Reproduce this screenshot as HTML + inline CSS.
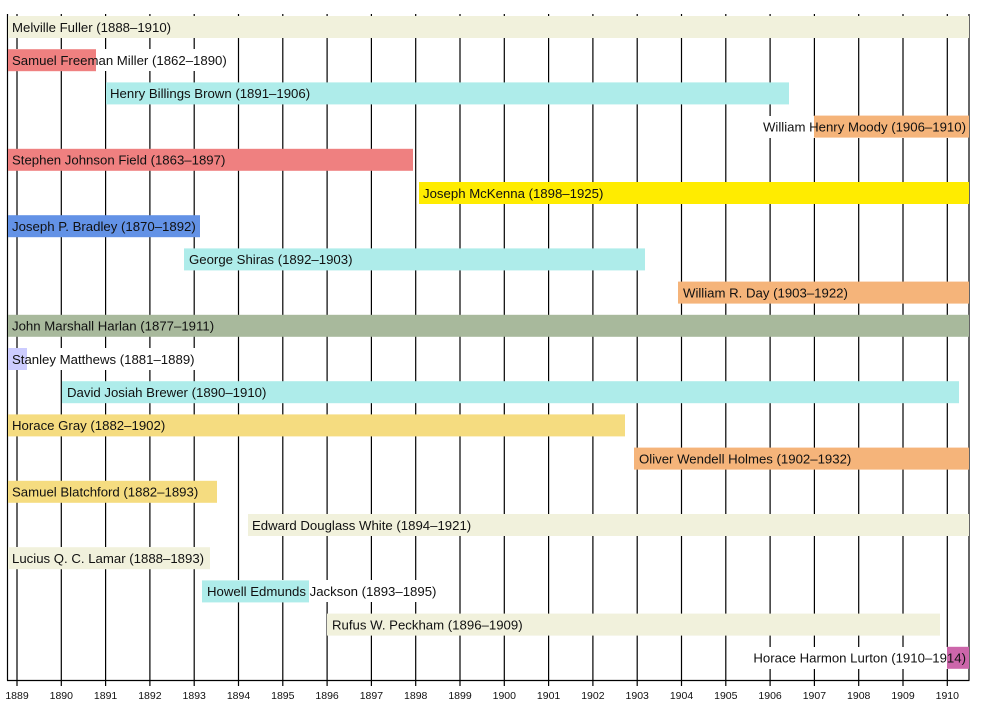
<!DOCTYPE html>
<html><head><meta charset="utf-8"><style>
body{margin:0;background:#fff;width:1000px;height:710px;position:relative;overflow:hidden;}
svg{position:absolute;left:0;top:0;}
.l{position:absolute;height:22px;line-height:23px;font:13.2px "Liberation Sans",sans-serif;white-space:nowrap;color:#111;padding:0 3px 0 4px;}
.bg{background:#fff;color:transparent;}
svg text{font-family:"Liberation Sans",sans-serif;}
</style></head><body>
<svg width="1000" height="710" xmlns="http://www.w3.org/2000/svg">
<g stroke="#000" stroke-width="1.2">
<line x1="17" y1="14" x2="17" y2="686"/><line x1="61.3" y1="14" x2="61.3" y2="686"/><line x1="105.6" y1="14" x2="105.6" y2="686"/><line x1="149.9" y1="14" x2="149.9" y2="686"/><line x1="194.2" y1="14" x2="194.2" y2="686"/><line x1="238.5" y1="14" x2="238.5" y2="686"/><line x1="282.8" y1="14" x2="282.8" y2="686"/><line x1="327.1" y1="14" x2="327.1" y2="686"/><line x1="371.4" y1="14" x2="371.4" y2="686"/><line x1="415.7" y1="14" x2="415.7" y2="686"/><line x1="460" y1="14" x2="460" y2="686"/><line x1="504.3" y1="14" x2="504.3" y2="686"/><line x1="548.6" y1="14" x2="548.6" y2="686"/><line x1="592.9" y1="14" x2="592.9" y2="686"/><line x1="637.2" y1="14" x2="637.2" y2="686"/><line x1="681.5" y1="14" x2="681.5" y2="686"/><line x1="725.8" y1="14" x2="725.8" y2="686"/><line x1="770.1" y1="14" x2="770.1" y2="686"/><line x1="814.4" y1="14" x2="814.4" y2="686"/><line x1="858.7" y1="14" x2="858.7" y2="686"/><line x1="903" y1="14" x2="903" y2="686"/><line x1="947.3" y1="14" x2="947.3" y2="686"/>
</g>
</svg>
<div class="l bg" style="left:8px;top:49.2px">Samuel Freeman Miller (1862–1890)</div>
<div class="l bg" style="right:34px;top:115.6px">William Henry Moody (1906–1910)</div>
<div class="l bg" style="left:8px;top:348px">Stanley Matthews (1881–1889)</div>
<div class="l bg" style="left:203px;top:580.4px">Howell Edmunds Jackson (1893–1895)</div>
<div class="l bg" style="right:34px;top:646.8px">Horace Harmon Lurton (1910–1914)</div>
<div class="l bg" style="left:8px;top:547.2px">Lucius Q. C. Lamar (1888–1893)</div>
<svg width="1000" height="710" xmlns="http://www.w3.org/2000/svg">
<g stroke="#000" stroke-width="1.2">
<line x1="7.5" y1="14" x2="7.5" y2="680.5"/><line x1="969" y1="14" x2="969" y2="680.5"/><line x1="7" y1="680.5" x2="969.5" y2="680.5"/>
</g>
<g>
<rect x="8" y="16" width="961" height="22" fill="#f1f1dc"/>
<rect x="8" y="49.2" width="88" height="22" fill="#ef8080"/>
<rect x="106" y="82.4" width="683" height="22" fill="#aeecea"/>
<rect x="814" y="115.6" width="155" height="22" fill="#f5b47a"/>
<rect x="8" y="148.8" width="405" height="22" fill="#ef8080"/>
<rect x="419" y="182" width="550" height="22" fill="#ffec00"/>
<rect x="8" y="215.2" width="192" height="22" fill="#6392e6"/>
<rect x="184" y="248.4" width="461" height="22" fill="#aeecea"/>
<rect x="678" y="281.6" width="291" height="22" fill="#f5b47a"/>
<rect x="8" y="314.8" width="961" height="22" fill="#a8b99c"/>
<rect x="8" y="348" width="19" height="22" fill="#ccccff"/>
<rect x="62" y="381.2" width="897" height="22" fill="#aeecea"/>
<rect x="8" y="414.4" width="617" height="22" fill="#f5dc80"/>
<rect x="634" y="447.6" width="335" height="22" fill="#f5b47a"/>
<rect x="8" y="480.8" width="209" height="22" fill="#f5dc80"/>
<rect x="248" y="514" width="721" height="22" fill="#f1f1dc"/>
<rect x="8" y="547.2" width="202" height="22" fill="#f1f1dc"/>
<rect x="202" y="580.4" width="107" height="22" fill="#aeecea"/>
<rect x="327" y="613.6" width="613" height="22" fill="#f1f1dc"/>
<rect x="947" y="646.8" width="22" height="22" fill="#cc66aa"/>
</g>
<g font-size="13.2" fill="#111">
<text x="12" y="31.8">Melville Fuller (1888–1910)</text>
<text x="12" y="65">Samuel Freeman Miller (1862–1890)</text>
<text x="110" y="98.2">Henry Billings Brown (1891–1906)</text>
<text x="966" y="131.4" text-anchor="end">William Henry Moody (1906–1910)</text>
<text x="12" y="164.6">Stephen Johnson Field (1863–1897)</text>
<text x="423" y="197.8">Joseph McKenna (1898–1925)</text>
<text x="12" y="231">Joseph P. Bradley (1870–1892)</text>
<text x="189" y="264.2">George Shiras (1892–1903)</text>
<text x="683" y="297.4">William R. Day (1903–1922)</text>
<text x="12" y="330.6">John Marshall Harlan (1877–1911)</text>
<text x="12" y="363.8">Stanley Matthews (1881–1889)</text>
<text x="67" y="397">David Josiah Brewer (1890–1910)</text>
<text x="12" y="430.2">Horace Gray (1882–1902)</text>
<text x="639" y="463.4">Oliver Wendell Holmes (1902–1932)</text>
<text x="12" y="496.6">Samuel Blatchford (1882–1893)</text>
<text x="252" y="529.8">Edward Douglass White (1894–1921)</text>
<text x="12" y="563">Lucius Q. C. Lamar (1888–1893)</text>
<text x="207" y="596.2">Howell Edmunds Jackson (1893–1895)</text>
<text x="332" y="629.4">Rufus W. Peckham (1896–1909)</text>
<text x="966" y="662.6" text-anchor="end">Horace Harmon Lurton (1910–1914)</text>
</g>
<g font-size="10.5" fill="#111" text-anchor="middle">
<text x="17" y="699">1889</text><text x="61.3" y="699">1890</text><text x="105.6" y="699">1891</text><text x="149.9" y="699">1892</text><text x="194.2" y="699">1893</text><text x="238.5" y="699">1894</text><text x="282.8" y="699">1895</text><text x="327.1" y="699">1896</text><text x="371.4" y="699">1897</text><text x="415.7" y="699">1898</text><text x="460" y="699">1899</text><text x="504.3" y="699">1900</text><text x="548.6" y="699">1901</text><text x="592.9" y="699">1902</text><text x="637.2" y="699">1903</text><text x="681.5" y="699">1904</text><text x="725.8" y="699">1905</text><text x="770.1" y="699">1906</text><text x="814.4" y="699">1907</text><text x="858.7" y="699">1908</text><text x="903" y="699">1909</text><text x="947.3" y="699">1910</text>
</g>
</svg>
</body></html>
